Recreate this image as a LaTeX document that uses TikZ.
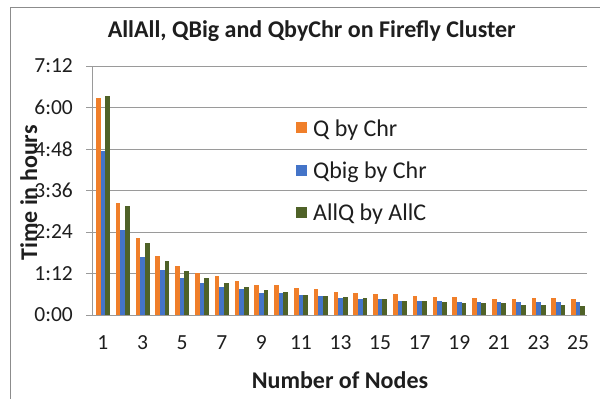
\documentclass[tikz,border=0pt]{standalone}
\usepackage{fontspec}
\setmainfont{Carlito}
\definecolor{qorange}{HTML}{F07F2A}
\definecolor{qblue}{HTML}{4474C8}
\definecolor{qgreen}{HTML}{4F6228}
\definecolor{gridgray}{HTML}{9A9A9A}
\definecolor{framegray}{HTML}{8C8C8C}
\definecolor{txt}{HTML}{1E1E1E}
\begin{document}
\begin{tikzpicture}[x=1pt,y=-1pt,
  frameline/.style={draw=framegray,line width=0.9pt},
  gridline/.style={draw=gridgray,line width=0.9pt},
  ticklab/.style={inner sep=0pt,text=txt,font=\fontsize{21.5}{24}\selectfont},
  axtitle/.style={inner sep=0pt,text=txt,font=\fontsize{24}{28}\selectfont\bfseries},
  legtext/.style={inner sep=0pt,anchor=base west,text=txt,font=\fontsize{24}{28}\selectfont}]
\useasboundingbox (0,0) rectangle (600,399);
\fill[white] (0,0) rectangle (600,399);
\draw[frameline] (10,399) -- (10,7.5) -- (600,7.5);
% grid
\foreach \k in {1,...,6}{
  \draw[gridline] (86,{315-41.5*\k}) -- (587,{315-41.5*\k});
}
\draw[gridline] (86,315) -- (587,315);
\draw[gridline] (92.7,66) -- (92.7,315);
% bars
\foreach \i/\a/\b/\c in {1/376/284.6/380.5, 2/193.8/147.5/189.7, 3/133.6/100.6/125,
  4/102.4/78/94, 5/85/64.7/76.3, 6/73.4/56/64.7, 7/67/49/56, 8/58.4/45/49,
  9/51.5/38/43.4, 10/51.5/38/40.5, 11/46.8/35.5/35.5, 12/45/33.5/33.5,
  13/40.5/29.5/31.2, 14/38.2/27/29.5, 15/35.9/27/27, 16/35.9/24.9/24.9,
  17/33.5/24.9/24.9, 18/31.2/24.9/22.5, 19/31.2/22.5/20.2, 20/29.5/22.5/20.2,
  21/27/22.5/20.2, 22/27/22.5/18, 23/29.5/22.5/18, 24/29.5/22.5/18, 25/27/22.5/15.6}{
  \pgfmathsetmacro\xc{93+(\i-0.5)*19.8}
  \pgfmathsetmacro\ya{315-\a*0.57639}
  \pgfmathsetmacro\yb{315-\b*0.57639}
  \pgfmathsetmacro\yc{315-\c*0.57639}
  \fill[qorange] ({\xc-7},314.5) rectangle ({\xc-2.35},\ya);
  \fill[qblue] ({\xc-2.35},314.5) rectangle ({\xc+2.35},\yb);
  \fill[qgreen] ({\xc+2.35},314.5) rectangle ({\xc+7},\yc);
}
% y tick labels
\foreach \k/\t in {0/0:00,1/1:12,2/2:24,3/3:36,4/4:48,5/6:00,6/7:12}{
  \node[ticklab,anchor=east] (yt\k) at (73,{315-41.5*\k}) {\t};
}
% x tick labels
\foreach \i in {1,3,...,25}{
  \node[ticklab] (xt\i) at ({93+(\i-0.5)*19.8},343) {\i};
}
% titles
\node[axtitle,anchor=base] (title) at (311.7,37) {AllAll, QBig and QbyChr on Firefly Cluster};
\node[axtitle,anchor=base] (xlab) at (340,388) {Number of Nodes};
\node[axtitle,anchor=base,rotate=90] (ylab) at (37,193) {Time in hours};
% legend
\fill[qorange] (296,122) rectangle (307,133);
\fill[qblue] (296,164.5) rectangle (307,175.5);
\fill[qgreen] (296,207) rectangle (307,218);
\node[legtext] (l1) at (313,136) {Q by Chr};
\node[legtext] (l2) at (313,178) {Qbig by Chr};
\node[legtext] (l3) at (313,220) {AllQ by AllC};
\end{tikzpicture}
\end{document}
